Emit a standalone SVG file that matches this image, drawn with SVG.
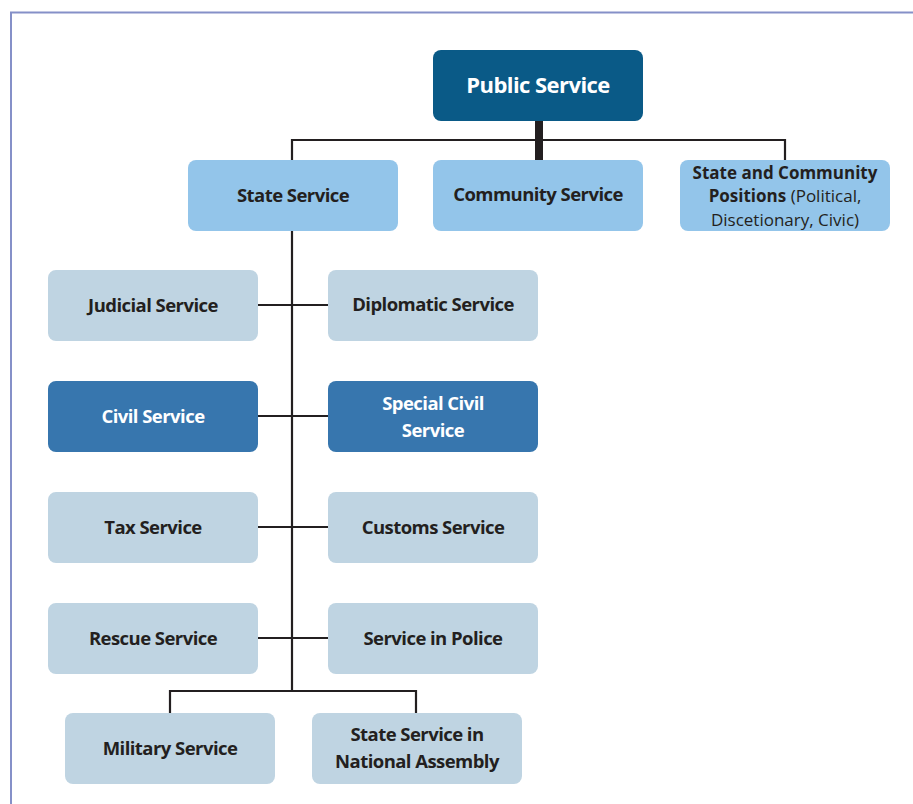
<svg xmlns="http://www.w3.org/2000/svg" width="913" height="804" viewBox="0 0 913 804">
  <style>
    .lbl { font-family: "Open Sans", "Liberation Sans", sans-serif; font-weight: 700; font-size: 18.5px; fill: #231f20; text-anchor: middle; letter-spacing: -0.55px; }
    .lbl.w { fill: #ffffff; }
    .lbl.s { font-size: 17px; letter-spacing: 0; }
    .lbl .n { font-weight: 400; }
    .top { fill: #0a5a87; }
    .mid { fill: #93c5ea; }
    .pale { fill: #bfd4e2; }
    .civ { fill: #3776ae; }
    .wire { fill: none; stroke: #231f20; stroke-width: 2.2; }
  </style>

  <rect x="0" y="0" width="913" height="804" fill="#ffffff"/>
  <!-- page frame -->
  <rect x="11" y="12.5" width="920" height="820" fill="none" stroke="#8590c8" stroke-width="2"/>

  <g id="connectors">
    <line x1="539" y1="120" x2="539" y2="160" stroke="#231f20" stroke-width="8"/>
    <path class="wire" d="M292 160 V140 H785 V160"/>
    <line class="wire" x1="292" y1="231" x2="292" y2="691"/>
    <line class="wire" x1="258" y1="305" x2="328" y2="305"/>
    <line class="wire" x1="258" y1="416" x2="328" y2="416"/>
    <line class="wire" x1="258" y1="527" x2="328" y2="527"/>
    <line class="wire" x1="258" y1="638" x2="328" y2="638"/>
    <path class="wire" d="M170 713 V691 H416 V713"/>
  </g>

  <g id="public-service">
    <rect class="top" x="433" y="50" width="210" height="71" rx="8"/>
    <text class="lbl w" x="538" y="93" style="font-size:22px">Public Service</text>
  </g>
  <g id="state-service">
    <rect class="mid" x="188" y="160" width="210" height="71" rx="8"/>
    <text class="lbl" x="293" y="202">State Service</text>
  </g>
  <g id="community-service">
    <rect class="mid" x="433" y="160" width="210" height="71" rx="8"/>
    <text class="lbl" x="538" y="201">Community Service</text>
  </g>
  <g id="state-community-positions">
    <rect class="mid" x="680" y="160" width="210" height="71" rx="8"/>
    <text class="lbl s" x="785" y="178.5">State and Community</text>
    <text class="lbl s" x="785" y="202">Positions <tspan class="n">(Political,</tspan></text>
    <text class="lbl s" x="785" y="225.5"><tspan class="n">Discetionary, Civic)</tspan></text>
  </g>

  <g id="judicial-service">
    <rect class="pale" x="48" y="270" width="210" height="71" rx="8"/>
    <text class="lbl" x="153" y="312">Judicial Service</text>
  </g>
  <g id="diplomatic-service">
    <rect class="pale" x="328" y="270" width="210" height="71" rx="8"/>
    <text class="lbl" x="433" y="311">Diplomatic Service</text>
  </g>
  <g id="civil-service">
    <rect class="civ" x="48" y="381" width="210" height="71" rx="8"/>
    <text class="lbl w" x="153" y="423">Civil Service</text>
  </g>
  <g id="special-civil-service">
    <rect class="civ" x="328" y="381" width="210" height="71" rx="8"/>
    <text class="lbl w" x="433" y="410">Special Civil</text>
    <text class="lbl w" x="433" y="437">Service</text>
  </g>
  <g id="tax-service">
    <rect class="pale" x="48" y="492" width="210" height="71" rx="8"/>
    <text class="lbl" x="153" y="534">Tax Service</text>
  </g>
  <g id="customs-service">
    <rect class="pale" x="328" y="492" width="210" height="71" rx="8"/>
    <text class="lbl" x="433" y="534">Customs Service</text>
  </g>
  <g id="rescue-service">
    <rect class="pale" x="48" y="603" width="210" height="71" rx="8"/>
    <text class="lbl" x="153" y="645">Rescue Service</text>
  </g>
  <g id="service-in-police">
    <rect class="pale" x="328" y="603" width="210" height="71" rx="8"/>
    <text class="lbl" x="433" y="645">Service in Police</text>
  </g>
  <g id="military-service">
    <rect class="pale" x="65" y="713" width="210" height="71" rx="8"/>
    <text class="lbl" x="170" y="755">Military Service</text>
  </g>
  <g id="national-assembly-service">
    <rect class="pale" x="312" y="713" width="210" height="71" rx="8"/>
    <text class="lbl" x="417" y="741">State Service in</text>
    <text class="lbl" x="417" y="768">National Assembly</text>
  </g>
</svg>
